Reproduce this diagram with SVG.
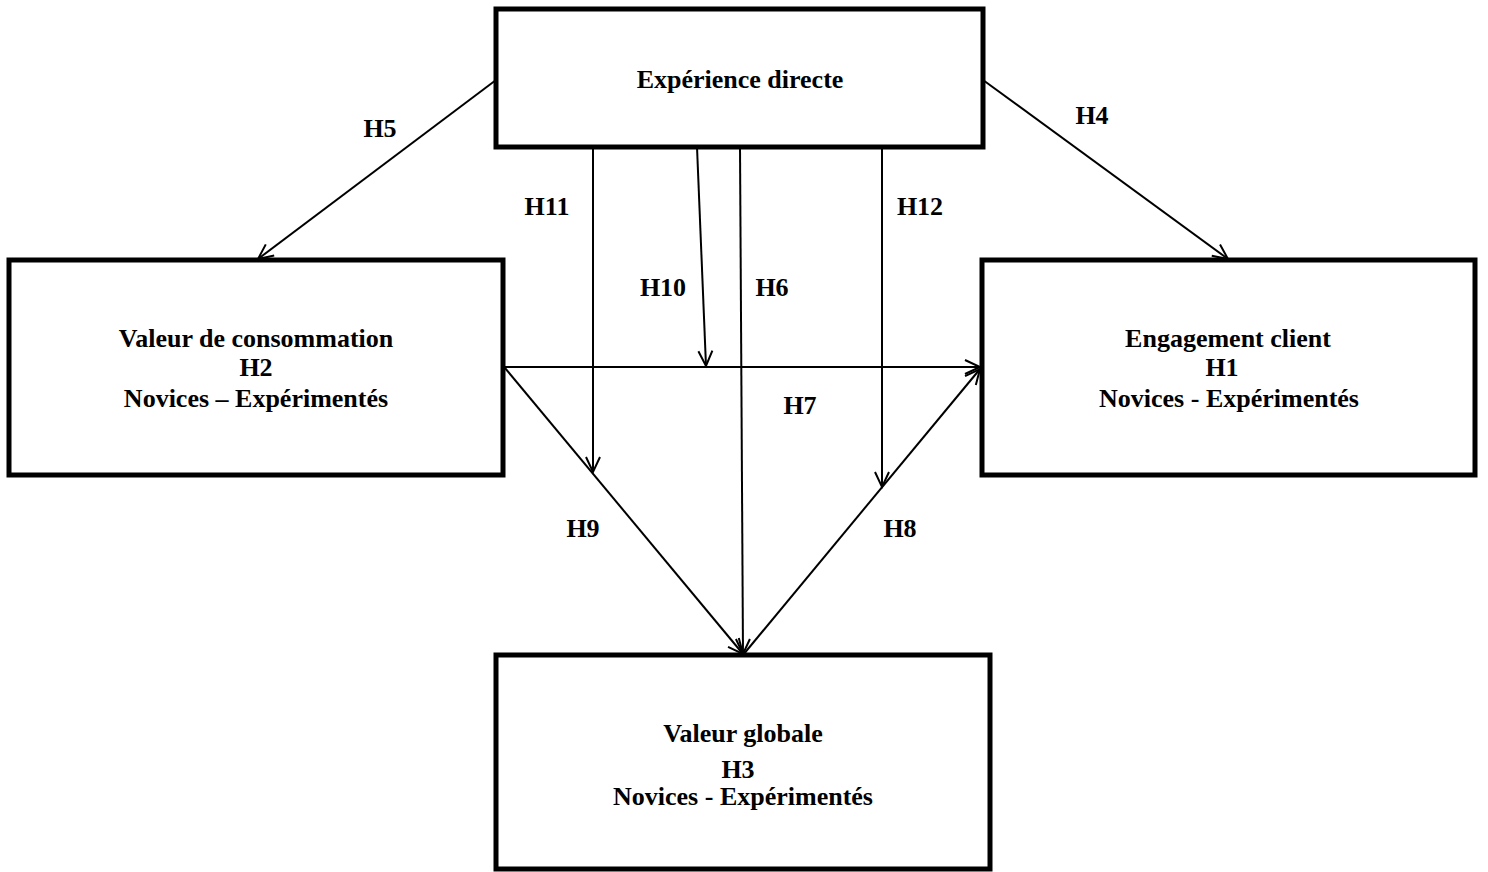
<svg xmlns="http://www.w3.org/2000/svg" width="1488" height="872" viewBox="0 0 1488 872">
<style>
.box{fill:#fff;stroke:#000;stroke-width:5}
.t{font-family:"Liberation Serif","Times New Roman",serif;font-weight:bold;font-size:26px;fill:#000;text-anchor:middle}
.c{stroke:#000;stroke-width:2;fill:none;marker-end:url(#ah)}
.cn{stroke:#000;stroke-width:2;fill:none}
</style>
<defs>
<marker id="ah" markerUnits="userSpaceOnUse" markerWidth="20" markerHeight="20" viewBox="-16 -10 18 20" refX="0" refY="0" orient="auto">
<path d="M -15 -7 L 0 0 L -15 7" fill="none" stroke="#000" stroke-width="2"/>
</marker>
</defs>
<rect width="1488" height="872" fill="#fff"/>
<g id="connectors">
<line class="c" x1="496" y1="80" x2="258" y2="259"/>
<line class="c" x1="983" y1="80" x2="1228" y2="259"/>
<line class="c" x1="593" y1="147" x2="593" y2="472"/>
<line class="c" x1="697" y1="147" x2="706" y2="366"/>
<line class="c" x1="740" y1="147" x2="743" y2="654"/>
<line class="c" x1="882" y1="147" x2="882" y2="487"/>
<line class="c" x1="503" y1="367" x2="980" y2="367"/>
<line class="c" x1="505" y1="368" x2="743" y2="654"/>
<line class="c" x1="743" y1="655" x2="980" y2="369"/>
</g>
<g id="n-experience">
<rect class="box" x="496" y="9" width="487" height="138"/>
<text class="t" x="740" y="88">Expérience directe</text>
</g>
<g id="n-valeur-conso">
<rect class="box" x="9" y="260" width="494" height="215"/>
<text class="t" x="256" y="347">Valeur de consommation</text>
<text class="t" x="256" y="376">H2</text>
<text class="t" x="256" y="407">Novices – Expérimentés</text>
</g>
<g id="n-engagement">
<rect class="box" x="982" y="260" width="493" height="215"/>
<text class="t" x="1228" y="347">Engagement client</text>
<text class="t" x="1222" y="376">H1</text>
<text class="t" x="1229" y="407">Novices - Expérimentés</text>
</g>
<g id="n-valeur-globale">
<rect class="box" x="496" y="655" width="494" height="214"/>
<text class="t" x="743" y="742">Valeur globale</text>
<text class="t" x="738" y="778">H3</text>
<text class="t" x="743" y="805">Novices - Expérimentés</text>
</g>
<g id="labels">
<text class="t" x="380" y="137">H5</text>
<text class="t" x="1092" y="124">H4</text>
<text class="t" x="547" y="215">H11</text>
<text class="t" x="920" y="215">H12</text>
<text class="t" x="663" y="296">H10</text>
<text class="t" x="772" y="296">H6</text>
<text class="t" x="800" y="414">H7</text>
<text class="t" x="583" y="537">H9</text>
<text class="t" x="900" y="537">H8</text>
</g>
</svg>
